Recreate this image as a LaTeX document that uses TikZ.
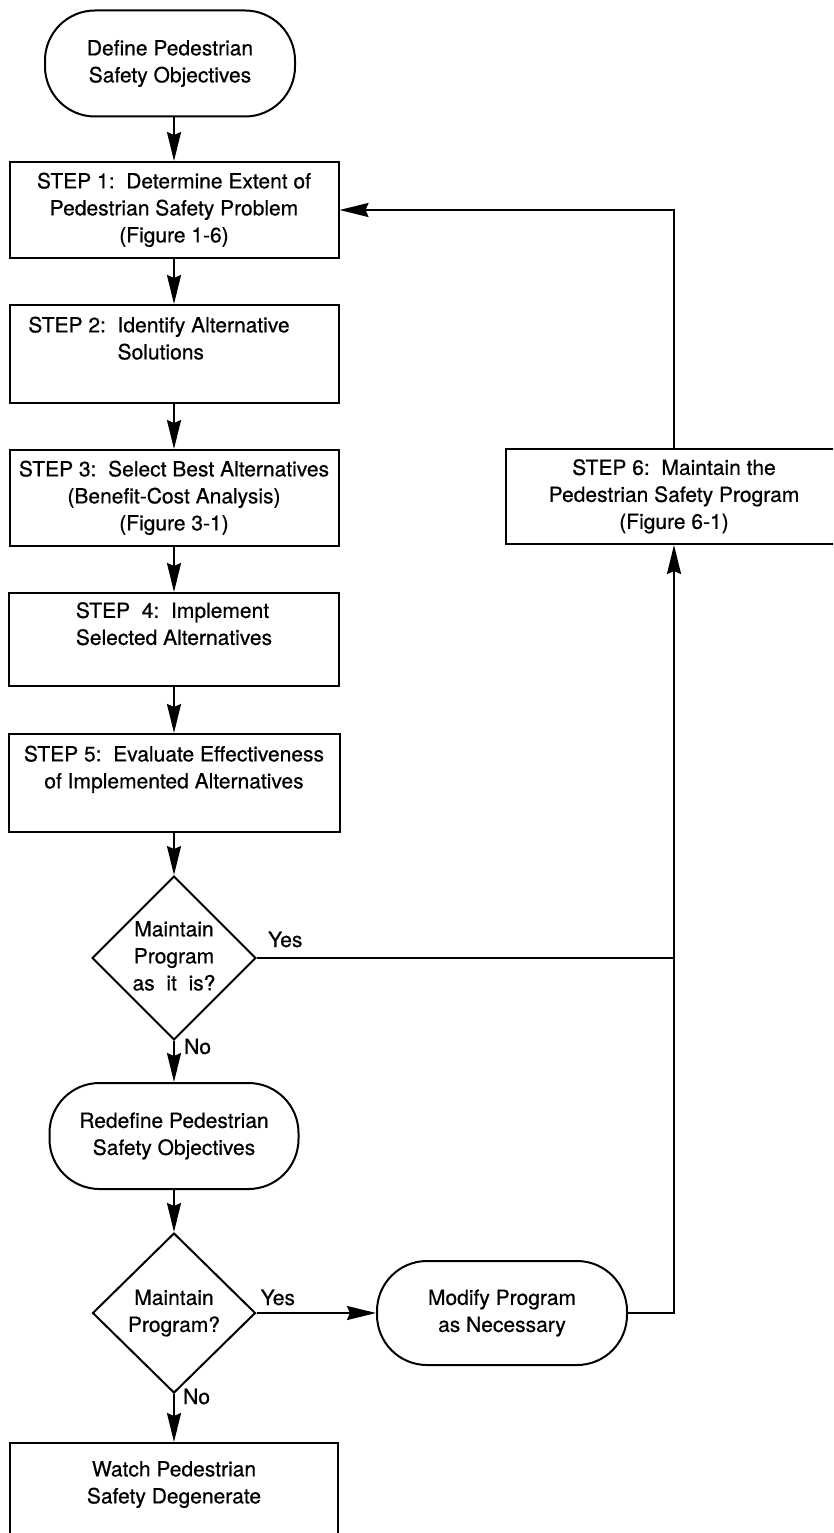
\documentclass[tikz,border=0pt]{standalone}
\usepackage{fontspec}
\setmainfont[FakeBold=0.6]{TeX Gyre Heros}
\newfontfamily\chartfont[FakeBold=0.6]{TeX Gyre Heros}
\usetikzlibrary{arrows.meta,shapes.geometric,calc}

\begin{document}
\begin{tikzpicture}[x=1pt,y=-1pt,
  every node/.style={font=\chartfont\fontsize{21}{27}\selectfont},
  base/.style={draw,line width=2pt,inner sep=0pt},
  stepbox/.style={base,rectangle,minimum width=330pt,minimum height=96pt,align=center},
  terminal/.style={base,rectangle,rounded corners=50pt,minimum width=250pt,minimum height=106pt,align=center},
  decision/.style={base,diamond,aspect=1,minimum width=161pt,minimum height=158pt,align=center},
  flow/.style={line width=2pt},
  arr/.style={flow,-{Stealth[length=29pt,width=14pt,inset=3pt]}},
  tag/.style={inner sep=0pt,anchor=base west}
]
\useasboundingbox (0,0) rectangle (833,1533);
\clip (0,0) rectangle (833,1533);

% main column
\node[terminal] (start) at (170,63.5) {\strut Define Pedestrian\\Safety Objectives\strut};
\node[stepbox,minimum width=329pt] (s1) at (174,210) {\strut STEP 1:\ \ Determine Extent of\\Pedestrian Safety Problem\\(Figure 1-6)\strut};
\node[stepbox,minimum width=329pt,minimum height=98pt,align=left] (s2) at (174,354)
  {\strut STEP 2:\ \ Identify Alternative\kern30pt\\\phantom{STEP 2:\ \ }Solutions\\\strut};
\node[stepbox,minimum width=329pt] (s3) at (174,498) {\strut STEP 3:\ \ Select Best Alternatives\\(Benefit-Cost Analysis)\\(Figure 3-1)\strut};
\node[stepbox,minimum height=93pt,align=left] (s4) at (174,639.5)
  {\strut STEP\ \ 4:\ \ Implement\\Selected Alternatives\\\strut};
\node[stepbox,minimum width=331pt,minimum height=98pt] (s5) at (174,783)
  {\strut STEP 5:\ \ Evaluate Effectiveness\\of Implemented Alternatives\\\strut};
\node[decision] (d1) at (174,958) {\strut Maintain\\Program\\as\ \ it\ \ is?\strut};
\node[terminal,minimum width=249pt] (redef) at (174,1136) {\strut Redefine Pedestrian\\Safety Objectives\strut};
\node[decision,minimum width=163pt,minimum height=160pt] (d2) at (174,1313) {\strut Maintain\\Program?\strut};
\node[stepbox,minimum width=328pt,minimum height=110pt] (watch) at (174,1498)
  {\strut Watch Pedestrian\\Safety Degenerate\\\strut};

% right column
\node[stepbox,minimum width=336pt,minimum height=95pt] (s6) at (674,496.5)
  {\strut STEP 6:\ \ Maintain the\\Pedestrian Safety Program\\(Figure 6-1)\strut};
\node[terminal,minimum height=104pt] (modify) at (502,1313) {\strut Modify Program\\as Necessary\strut};

% connectors
\draw[arr] (s1.north |- start.south) -- (s1.north);
\draw[arr] (s1) -- (s2);
\draw[arr] (s2) -- (s3);
\draw[arr] (s3) -- (s4);
\draw[arr] (s4) -- (s5);
\draw[arr] (s5) -- (d1);
\draw[arr] (d1) -- (redef);
\draw[arr] (redef) -- (d2);
\draw[arr] (d2) -- (watch);
\draw[arr] (d2.east) -- (modify.west);
\draw[arr] (modify.east) -| (s6.south);
\draw[flow] (d1.east) -- (d1.east -| s6.south);
\draw[arr] (s6.north) |- (s1.east);

% branch labels
\node[tag] (y1) at ($(d1.east)+(11,-11)$) {Yes};
\node[tag] (n1) at ($(d1.south)+(10,13)$) {No};
\node[tag] (y2) at ($(d2.east)+(4,-8)$) {Yes};
\node[tag] (n2) at ($(d2.south)+(9,10)$) {No};
\end{tikzpicture}
\end{document}
